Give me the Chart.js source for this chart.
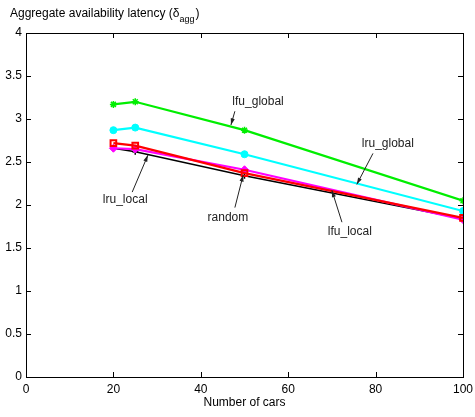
<!DOCTYPE html>
<html lang="en">
<head>
<meta charset="UTF-8">
<title>Aggregate availability latency</title>
<style>
  html, body { margin: 0; padding: 0; background: #fff; }
</style>
</head>
<body>
<canvas id="myChart" width="475" height="417"></canvas>
<script src="https://cdn.jsdelivr.net/npm/chart.js@4.4.0/dist/chart.umd.min.js"></script>
<script>
// data
const cars = [20, 25, 50, 100];
const lfuGlobal = [3.17, 3.20, 2.87, 2.05];
const lruGlobal = [2.87, 2.90, 2.59, 1.93];
const lruLocal = [2.66, 2.62, 2.34, 1.84];
const randomPol = [2.66, 2.65, 2.41, 1.83];
const lfuLocal = [2.72, 2.69, 2.37, 1.85];

const xTicks = [0, 20, 40, 60, 80, 100];
const yTicks = [0, 0.5, 1, 1.5, 2, 2.5, 3, 3.5, 4];

// label, text x, text y, arrow from x/y, arrow to x/y (data units)
const notes = [
  ['lfu_global', 53.1, 3.20, 47.8, 3.09, 46.9, 2.93],
  ['lru_global', 82.8, 2.71, 79.4, 2.60, 75.7, 2.24],
  ['lru_local', 22.7, 2.06, 24.3, 2.15, 27.9, 2.58],
  ['random', 46.2, 1.85, 47.8, 1.97, 49.7, 2.35],
  ['lfu_local', 74.1, 1.69, 72.3, 1.80, 70.0, 2.17]
];

const FONT = 'Liberation Sans, Arial, Helvetica, sans-serif';

function pts(ys) {
  return cars.map((c, i) => ({ x: c, y: ys[i] }));
}

const matlabPlugin = {
  id: 'matlabBox',
  afterDraw(chart) {
    const ctx = chart.ctx;
    const xs = chart.scales.x, ys = chart.scales.y;
    const a = chart.chartArea;
    ctx.save();
    ctx.strokeStyle = '#000';
    ctx.lineWidth = 1;
    ctx.strokeRect(Math.round(a.left) + 0.5, Math.round(a.top) + 0.5,
      Math.round(a.right - a.left), Math.round(a.bottom - a.top));
    ctx.beginPath();
    xTicks.forEach(v => {
      const px = Math.round(xs.getPixelForValue(v)) + 0.5;
      ctx.moveTo(px, a.bottom); ctx.lineTo(px, a.bottom - 5);
      ctx.moveTo(px, a.top); ctx.lineTo(px, a.top + 5);
    });
    yTicks.forEach(v => {
      const py = Math.round(ys.getPixelForValue(v)) + 0.5;
      ctx.moveTo(a.left, py); ctx.lineTo(a.left + 5, py);
      ctx.moveTo(a.right, py); ctx.lineTo(a.right - 5, py);
    });
    ctx.stroke();

    // annotations with arrows
    ctx.fillStyle = '#222';
    ctx.strokeStyle = '#222';
    ctx.font = '12px ' + FONT;
    ctx.textAlign = 'center';
    ctx.textBaseline = 'middle';
    notes.forEach(n => {
      ctx.fillText(n[0], xs.getPixelForValue(n[1]), ys.getPixelForValue(n[2]));
      const x0 = xs.getPixelForValue(n[3]), y0 = ys.getPixelForValue(n[4]);
      const x1 = xs.getPixelForValue(n[5]), y1 = ys.getPixelForValue(n[6]);
      const ang = Math.atan2(y1 - y0, x1 - x0);
      ctx.beginPath();
      ctx.moveTo(x0, y0); ctx.lineTo(x1, y1);
      ctx.stroke();
      ctx.beginPath();
      ctx.moveTo(x1, y1);
      ctx.lineTo(x1 - 7 * Math.cos(ang - 0.3), y1 - 7 * Math.sin(ang - 0.3));
      ctx.lineTo(x1 - 7 * Math.cos(ang + 0.3), y1 - 7 * Math.sin(ang + 0.3));
      ctx.closePath();
      ctx.fill();
    });

    // y label on top, with subscript
    ctx.fillStyle = '#000';
    ctx.textAlign = 'left';
    ctx.textBaseline = 'alphabetic';
    let tx = 10;
    const main = 'Aggregate availability latency (\u03b4';
    ctx.fillText(main, tx, 17);
    tx += ctx.measureText(main).width;
    ctx.font = '9px ' + FONT;
    ctx.fillText('agg', tx, 22);
    tx += ctx.measureText('agg').width;
    ctx.font = '12px ' + FONT;
    ctx.fillText(')', tx + 1, 17);
    ctx.restore();
  }
};

const ctx = document.getElementById('myChart').getContext('2d');
new Chart(ctx, {
  type: 'line',
  data: {
    datasets: [
      { label: 'lfu_local', data: pts(lfuLocal), borderColor: '#ff0000', backgroundColor: 'rgba(0,0,0,0)',
        borderWidth: 2.2, pointStyle: 'rect', pointRadius: 4, pointBorderWidth: 2, order: 0 },
      { label: 'random', data: pts(randomPol), borderColor: '#ff00ff', backgroundColor: '#ff00ff',
        borderWidth: 2.2, pointStyle: 'rectRot', pointRadius: 4, pointBorderWidth: 1, order: 1 },
      { label: 'lru_local', data: pts(lruLocal), borderColor: '#000000', backgroundColor: '#000000',
        borderWidth: 1.5, pointStyle: 'cross', pointRadius: 3, pointBorderWidth: 1.5, order: 2 },
      { label: 'lru_global', data: pts(lruGlobal), borderColor: '#00ffff', backgroundColor: '#00ffff',
        borderWidth: 2.2, pointStyle: 'circle', pointRadius: 3.5, pointBorderWidth: 1, order: 3 },
      { label: 'lfu_global', data: pts(lfuGlobal), borderColor: '#00ee00', backgroundColor: '#00ee00',
        borderWidth: 2.2, pointStyle: 'star', pointRadius: 3.5, pointBorderWidth: 1.5, order: 4 }
    ]
  },
  options: {
    responsive: false,
    animation: false,
    layout: { padding: { top: 33, right: 12, left: 0, bottom: 0 } },
    plugins: { legend: { display: false }, tooltip: { enabled: false } },
    elements: { line: { tension: 0 } },
    scales: {
      x: {
        type: 'linear', min: 0, max: 100,
        afterBuildTicks: s => { s.ticks = xTicks.map(v => ({ value: v })); },
        afterFit: s => { s.height = 40; s.paddingLeft = 0; s.paddingRight = 0; },
        grid: { display: false, drawTicks: false },
        border: { display: false },
        ticks: { padding: 5, color: '#000', font: { family: FONT, size: 12 }, maxRotation: 0,
          callback: v => String(v) },
        title: { display: true, text: 'Number of cars', color: '#000',
          font: { family: FONT, size: 12 }, padding: { top: 0, bottom: 7 } }
      },
      y: {
        type: 'linear', min: 0, max: 4,
        afterBuildTicks: s => { s.ticks = yTicks.map(v => ({ value: v })); },
        afterFit: s => { s.width = 26; s.paddingTop = 0; s.paddingBottom = 0; },
        grid: { display: false, drawTicks: false },
        border: { display: false },
        ticks: { padding: 4, color: '#000', font: { family: FONT, size: 12 },
          callback: v => String(v) }
      }
    }
  },
  plugins: [matlabPlugin]
});
</script>
</body>
</html>
